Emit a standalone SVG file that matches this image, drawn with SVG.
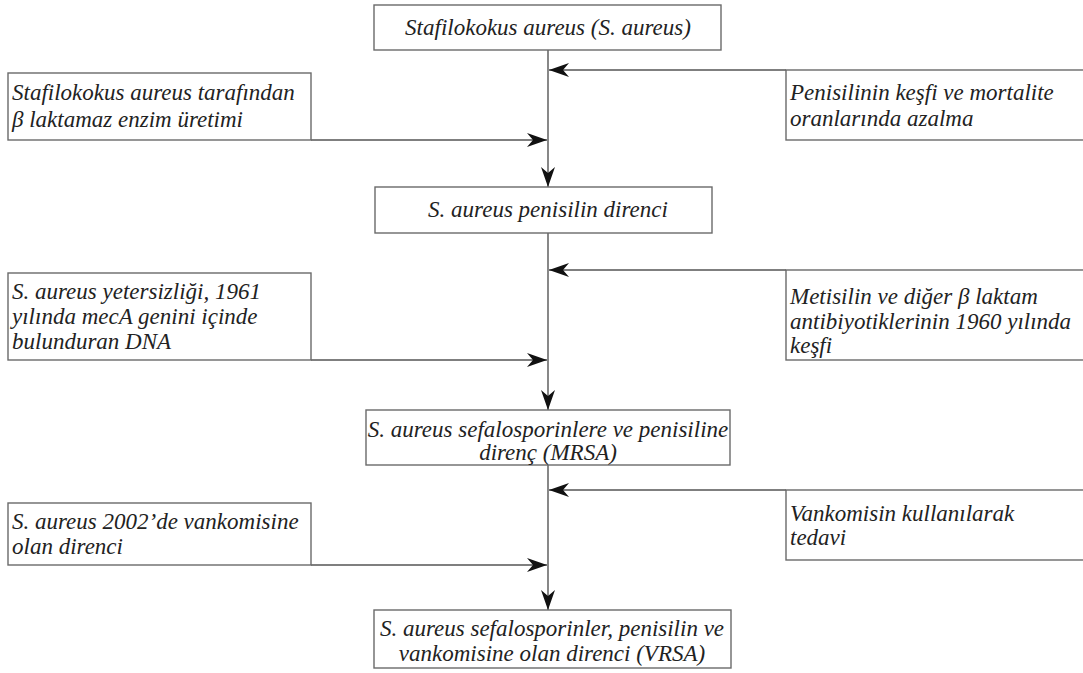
<svg xmlns="http://www.w3.org/2000/svg" width="1083" height="673" viewBox="0 0 1083 673">
<style>
.box{fill:#fff;stroke:#6a6a6a;stroke-width:1.4}
.t{font-family:"Liberation Serif","DejaVu Serif",serif;font-style:italic;font-size:23px;fill:#222}
.c{text-anchor:middle}
.ln{stroke:#555;stroke-width:1.4;fill:none;marker-end:url(#ah)}
</style>
<defs>
<marker id="ah" markerUnits="userSpaceOnUse" markerWidth="22" markerHeight="14" refX="20" refY="7" orient="auto">
<path d="M0,0 L20,7 L0,14 L6,7 z" fill="#111"/>
</marker>
</defs>
<rect width="1083" height="673" fill="#fff"/>
<g id="connectors">
<line class="ln" x1="548" y1="50" x2="548" y2="187"/>
<line class="ln" x1="786" y1="70" x2="549" y2="70"/>
<line class="ln" x1="311" y1="140" x2="547" y2="140"/>
<line class="ln" x1="548" y1="233" x2="548" y2="410"/>
<line class="ln" x1="786" y1="270" x2="549" y2="270"/>
<line class="ln" x1="311" y1="360" x2="547" y2="360"/>
<line class="ln" x1="548" y1="465" x2="548" y2="610"/>
<line class="ln" x1="786" y1="490" x2="549" y2="490"/>
<line class="ln" x1="311" y1="565" x2="547" y2="565"/>
</g>
<g id="n1"><rect class="box" x="374" y="5" width="347" height="45"/>
<text class="t c" x="548" y="35">Stafilokokus aureus (S. aureus)</text></g>
<g id="n2"><rect class="box" x="8" y="73" width="303" height="67"/>
<text class="t" x="12" y="100">Stafilokokus aureus tarafından</text>
<text class="t" x="12" y="127">β laktamaz enzim üretimi</text></g>
<g id="n3"><rect class="box" x="786" y="70" width="300" height="70"/>
<text class="t" x="790" y="100">Penisilinin keşfi ve mortalite</text>
<text class="t" x="790" y="126">oranlarında azalma</text></g>
<g id="n4"><rect class="box" x="375" y="187" width="337" height="46"/>
<text class="t c" x="548" y="217">S. aureus penisilin direnci</text></g>
<g id="n5"><rect class="box" x="8" y="273" width="303" height="87"/>
<text class="t" x="12" y="299">S. aureus yetersizliği, 1961</text>
<text class="t" x="12" y="324">yılında mecA genini içinde</text>
<text class="t" x="12" y="349">bulunduran DNA</text></g>
<g id="n6"><rect class="box" x="786" y="270" width="300" height="90"/>
<text class="t" x="790" y="304">Metisilin ve diğer β laktam</text>
<text class="t" x="790" y="329">antibiyotiklerinin 1960 yılında</text>
<text class="t" x="790" y="353">keşfi</text></g>
<g id="n7"><rect class="box" x="366" y="410" width="364" height="55"/>
<text class="t c" x="548" y="437">S. aureus sefalosporinlere ve penisiline</text>
<text class="t c" x="548" y="460">direnç (MRSA)</text></g>
<g id="n8"><rect class="box" x="8" y="503" width="303" height="62"/>
<text class="t" x="12" y="529">S. aureus 2002’de vankomisine</text>
<text class="t" x="12" y="554">olan direnci</text></g>
<g id="n9"><rect class="box" x="786" y="490" width="300" height="70"/>
<text class="t" x="790" y="521">Vankomisin kullanılarak</text>
<text class="t" x="790" y="545">tedavi</text></g>
<g id="n10"><rect class="box" x="374" y="610" width="357" height="58"/>
<text class="t c" x="552" y="636">S. aureus sefalosporinler, penisilin ve</text>
<text class="t c" x="552" y="661">vankomisine olan direnci (VRSA)</text></g>
</svg>
